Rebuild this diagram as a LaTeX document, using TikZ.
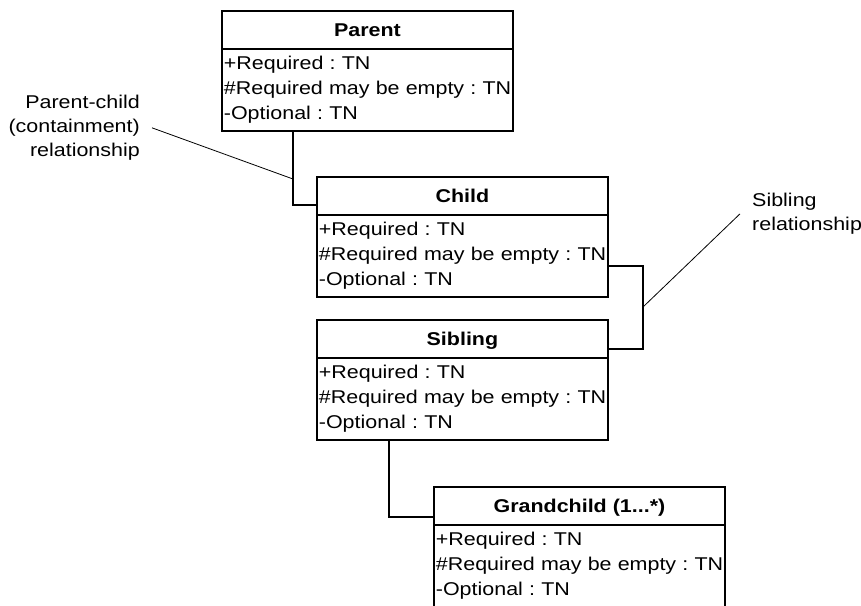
\documentclass[tikz,border=0pt]{standalone}
\usepackage{fontspec}
\setmainfont{Liberation Sans}[FakeStretch=1.16]
\frenchspacing
\newcommand{\dfont}{\fontsize{18.5}{25}\selectfont}
\newcommand{\nfont}{\fontsize{18.5}{24}\selectfont}
\newcommand{\rows}{\mbox{+Required : TN}\\\mbox{\#Required may be empty : TN}\\\mbox{-Optional : TN}}
\tikzset{
  hdr/.style={draw, line width=1.8pt, anchor=north west, minimum width=291pt,
    minimum height=38pt, inner sep=0pt, text height=13.2pt, text depth=0pt,
    font=\dfont\bfseries},
  body/.style={draw, line width=1.8pt, anchor=north west, text width=287pt,
    minimum height=82pt, inner xsep=2pt, inner ysep=0pt, align=left, font=\dfont},
  conn/.style={line width=1.2pt},
  note/.style={line width=0.8pt},
  notetext/.style={inner sep=0pt, font=\nfont}
}
\begin{document}
\begin{tikzpicture}[x=1pt, y=-1pt]
\useasboundingbox (0,0) rectangle (861,605);
\clip (0,0) rectangle (861,605);
% classes
\node[hdr] (parent) at (221,10) {Parent};
\node[body] (parentb) at (221,48) {\rows};
\node[hdr] (child) at (316,176) {Child};
\node[body] (childb) at (316,214) {\rows};
\node[hdr] (sibling) at (316,319) {Sibling};
\node[body] (siblingb) at (316,357) {\rows};
\node[hdr] (grand) at (433,486) {Grandchild (1...*)};
\node[body] (grandb) at (433,524) {\rows};
% connectors
\coordinate (pcbend) at (293,205);
\coordinate (pcmid) at (293,179);
\draw[conn] (parentb.south -| pcbend) -- (pcbend) -- (child.west |- pcbend);
\coordinate (cs1) at (643,266);
\coordinate (cs2) at (643,349);
\coordinate (csmid) at (643,307);
\draw[conn] (childb.east |- cs1) -- (cs1) -- (cs2) -- (sibling.east |- cs2);
\coordinate (sgbend) at (389,517);
\draw[conn] (siblingb.south -| sgbend) -- (sgbend) -- (grand.west |- sgbend);
% annotations
\node[notetext, anchor=north east, align=right] (pcnote) at (140,95) {Parent-child\\(containment)\\relationship};
\draw[note] ([xshift=12pt]pcnote.east) -- (pcmid);
\node[notetext, anchor=north west, align=left] (sibnote) at (752,193) {Sibling\\relationship};
\draw[note] ([xshift=-12pt]sibnote.west) -- (csmid);
\end{tikzpicture}
\end{document}
